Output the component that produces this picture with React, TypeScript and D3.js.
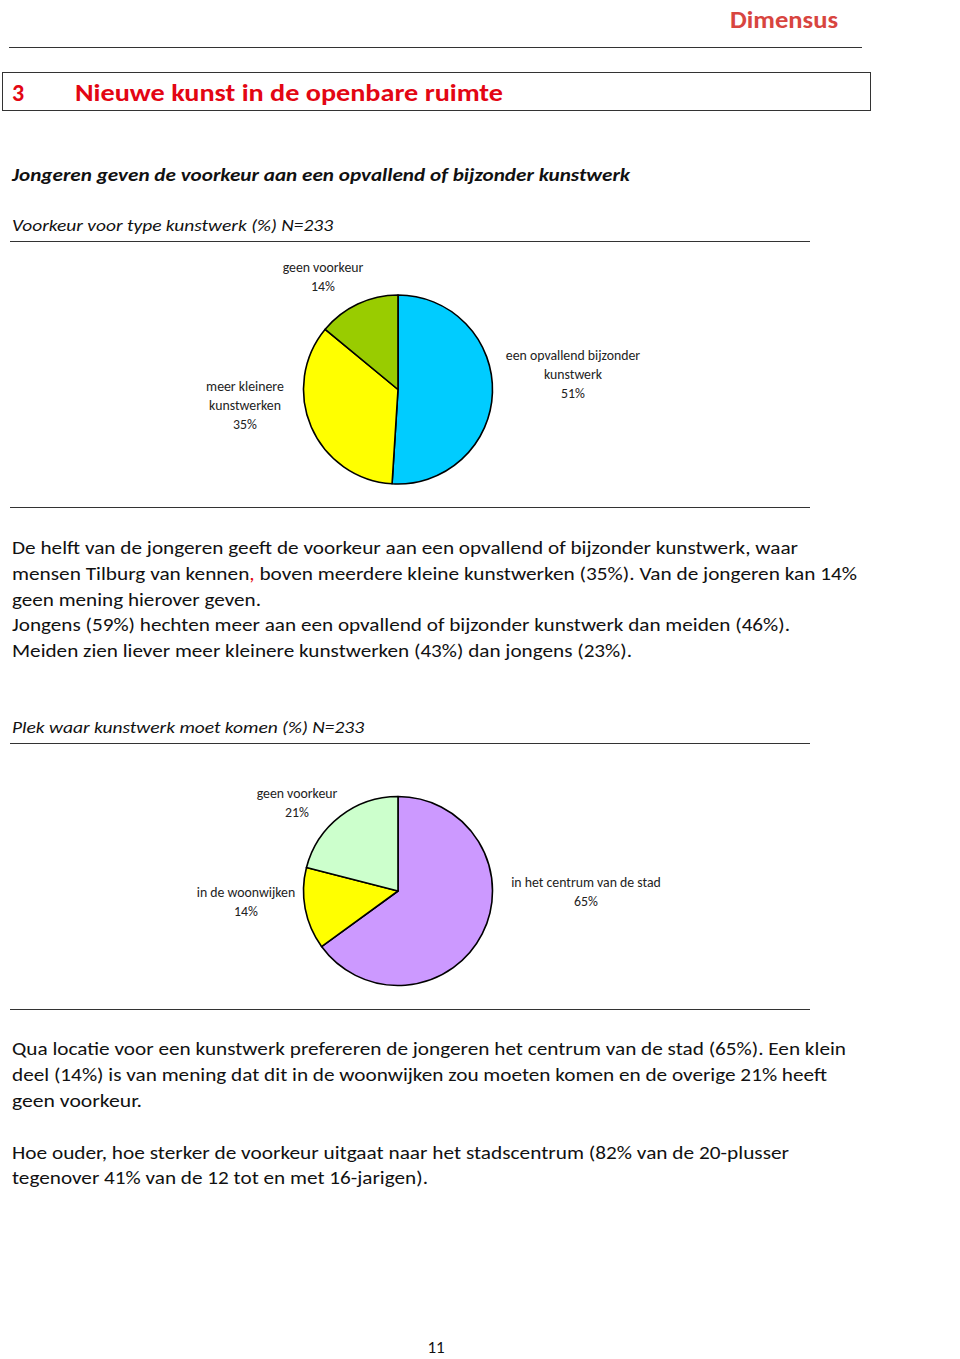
import React from "react";
import * as d3 from "d3";

// ---------- data ----------
const pie1Categories = ["een opvallend bijzonder kunstwerk", "meer kleinere kunstwerken", "geen voorkeur"];
const pie1Values = [51, 35, 14];
const pie1Colors = ["#00CCFF", "#FFFF00", "#99CC00"];
const pie1LabelLines = [["een opvallend bijzonder", "kunstwerk"], ["meer kleinere", "kunstwerken"], ["geen voorkeur"]];

const pie2Categories = ["in het centrum van de stad", "in de woonwijken", "geen voorkeur"];
const pie2Values = [65, 14, 21];
const pie2Colors = ["#CC99FF", "#FFFF00", "#CCFFCC"];
const pie2LabelLines = [["in het centrum van de stad"], ["in de woonwijken"], ["geen voorkeur"]];

// ---------- layout ----------
const FONT = "Calibri, Carlito, Lato, 'Open Sans', 'Noto Sans', sans-serif";
const pie1Layout = { cx: 398, cy: 389.5, r: 94.5, labels: [[573, 360], [245, 391], [323, 272]] };
const pie2Layout = { cx: 398, cy: 891, r: 94.5, labels: [[586, 887], [246, 897], [297, 798]] };

const para1 = [
  { t: "De helft van de jongeren geeft de voorkeur aan een opvallend of bijzonder kunstwerk, waar", y: 554, w: 786 },
  { t: "mensen Tilburg van kennen, boven meerdere kleine kunstwerken (35%). Van de jongeren kan 14%", y: 580, w: 845 },
  { t: "geen mening hierover geven.", y: 606, w: 249 },
  { t: "Jongens (59%) hechten meer aan een opvallend of bijzonder kunstwerk dan meiden (46%).", y: 631, w: 778 },
  { t: "Meiden zien liever meer kleinere kunstwerken (43%) dan jongens (23%).", y: 657, w: 620 },
];
const para2 = [
  { t: "Qua locatie voor een kunstwerk prefereren de jongeren het centrum van de stad (65%). Een klein", y: 1055, w: 834 },
  { t: "deel (14%) is van mening dat dit in de woonwijken zou moeten komen en de overige 21% heeft", y: 1081, w: 815 },
  { t: "geen voorkeur.", y: 1107, w: 130 },
  { t: "Hoe ouder, hoe sterker de voorkeur uitgaat naar het stadscentrum (82% van de 20-plusser", y: 1159, w: 777 },
  { t: "tegenover 41% van de 12 tot en met 16-jarigen).", y: 1184, w: 416 },
];

function Pie({ values, colors, lines, layout, cats }: any) {
  const arcs = d3.pie<number>().sort(null).value((d) => d)(values);
  const arcGen = d3.arc<d3.PieArcDatum<number>>().innerRadius(0).outerRadius(layout.r);
  return (
    <g>
      <g transform={`translate(${layout.cx},${layout.cy})`}>
        {arcs.map((a, i) => (
          <path key={i} d={arcGen(a) || ""} fill={colors[i]} stroke="#000" strokeWidth={1.6} strokeLinejoin="round" />
        ))}
      </g>
      {arcs.map((a, i) => {
        const [lx, ly] = layout.labels[i];
        const ls = [...lines[i], `${values[i]}%`];
        return (
          <text key={cats[i]} x={lx} y={ly} textAnchor="middle" fontFamily={FONT} fontSize={13.8} fill="#222">
            {ls.map((l: string, j: number) => (
              <tspan key={j} x={lx} y={ly + j * 19}>{l}</tspan>
            ))}
          </text>
        );
      })}
    </g>
  );
}

export default function App() {
  return (
    <svg width={960} height={1359} style={{ position: "absolute", left: 0, top: 0, background: "#fff" }}>
      <rect width={960} height={1359} fill="#fff" />
      {/* logo */}
      <text x={730} y={28} fontFamily={FONT} fontSize={24} fontWeight="bold" fill="#D8453F" textLength={108} lengthAdjust="spacingAndGlyphs">Dimensus</text>
      <line x1={9} x2={862} y1={47.5} y2={47.5} stroke="#333" strokeWidth={1} />
      {/* heading box */}
      <rect x={2.5} y={72.5} width={868} height={38} fill="none" stroke="#333" strokeWidth={1} />
      <text x={12} y={101} fontFamily={FONT} fontSize={24} fontWeight="bold" fill="#E30613">3</text>
      <text x={75} y={101} fontFamily={FONT} fontSize={24} fontWeight="bold" fill="#E30613" textLength={428} lengthAdjust="spacingAndGlyphs">Nieuwe kunst in de openbare ruimte</text>
      {/* subtitle */}
      <text x={12} y={181} fontFamily={FONT} fontSize={18} fontWeight="bold" fontStyle="italic" fill="#111" textLength={618} lengthAdjust="spacingAndGlyphs">Jongeren geven de voorkeur aan een opvallend of bijzonder kunstwerk</text>
      {/* chart 1 */}
      <text x={12} y={231} fontFamily={FONT} fontSize={17} fontStyle="italic" fill="#111" textLength={321} lengthAdjust="spacingAndGlyphs">Voorkeur voor type kunstwerk (%) N=233</text>
      <line x1={10} x2={810} y1={241.5} y2={241.5} stroke="#333" strokeWidth={1} />
      <Pie values={pie1Values} colors={pie1Colors} lines={pie1LabelLines} layout={pie1Layout} cats={pie1Categories} />
      <line x1={10} x2={810} y1={507.5} y2={507.5} stroke="#333" strokeWidth={1} />
      {para1.map((p) => (
        <text key={p.t} x={12} y={p.y} fontFamily={FONT} fontSize={18.5} fill="#111" textLength={p.w} lengthAdjust="spacingAndGlyphs">
          {p.t.includes("kennen,") ? (
            <>
              {"mensen Tilburg van kennen"}
              <tspan fill="#E30613">,</tspan>
              {" boven meerdere kleine kunstwerken (35%). Van de jongeren kan 14%"}
            </>
          ) : p.t}
        </text>
      ))}
      {/* chart 2 */}
      <text x={12} y={733} fontFamily={FONT} fontSize={17} fontStyle="italic" fill="#111" textLength={352} lengthAdjust="spacingAndGlyphs">Plek waar kunstwerk moet komen (%) N=233</text>
      <line x1={10} x2={810} y1={743.5} y2={743.5} stroke="#333" strokeWidth={1} />
      <Pie values={pie2Values} colors={pie2Colors} lines={pie2LabelLines} layout={pie2Layout} cats={pie2Categories} />
      <line x1={10} x2={810} y1={1009.5} y2={1009.5} stroke="#333" strokeWidth={1} />
      {para2.map((p) => (
        <text key={p.t} x={12} y={p.y} fontFamily={FONT} fontSize={18.5} fill="#111" textLength={p.w} lengthAdjust="spacingAndGlyphs">{p.t}</text>
      ))}
      <text x={436} y={1353} textAnchor="middle" fontFamily={FONT} fontSize={17} fill="#111">11</text>
    </svg>
  );
}
